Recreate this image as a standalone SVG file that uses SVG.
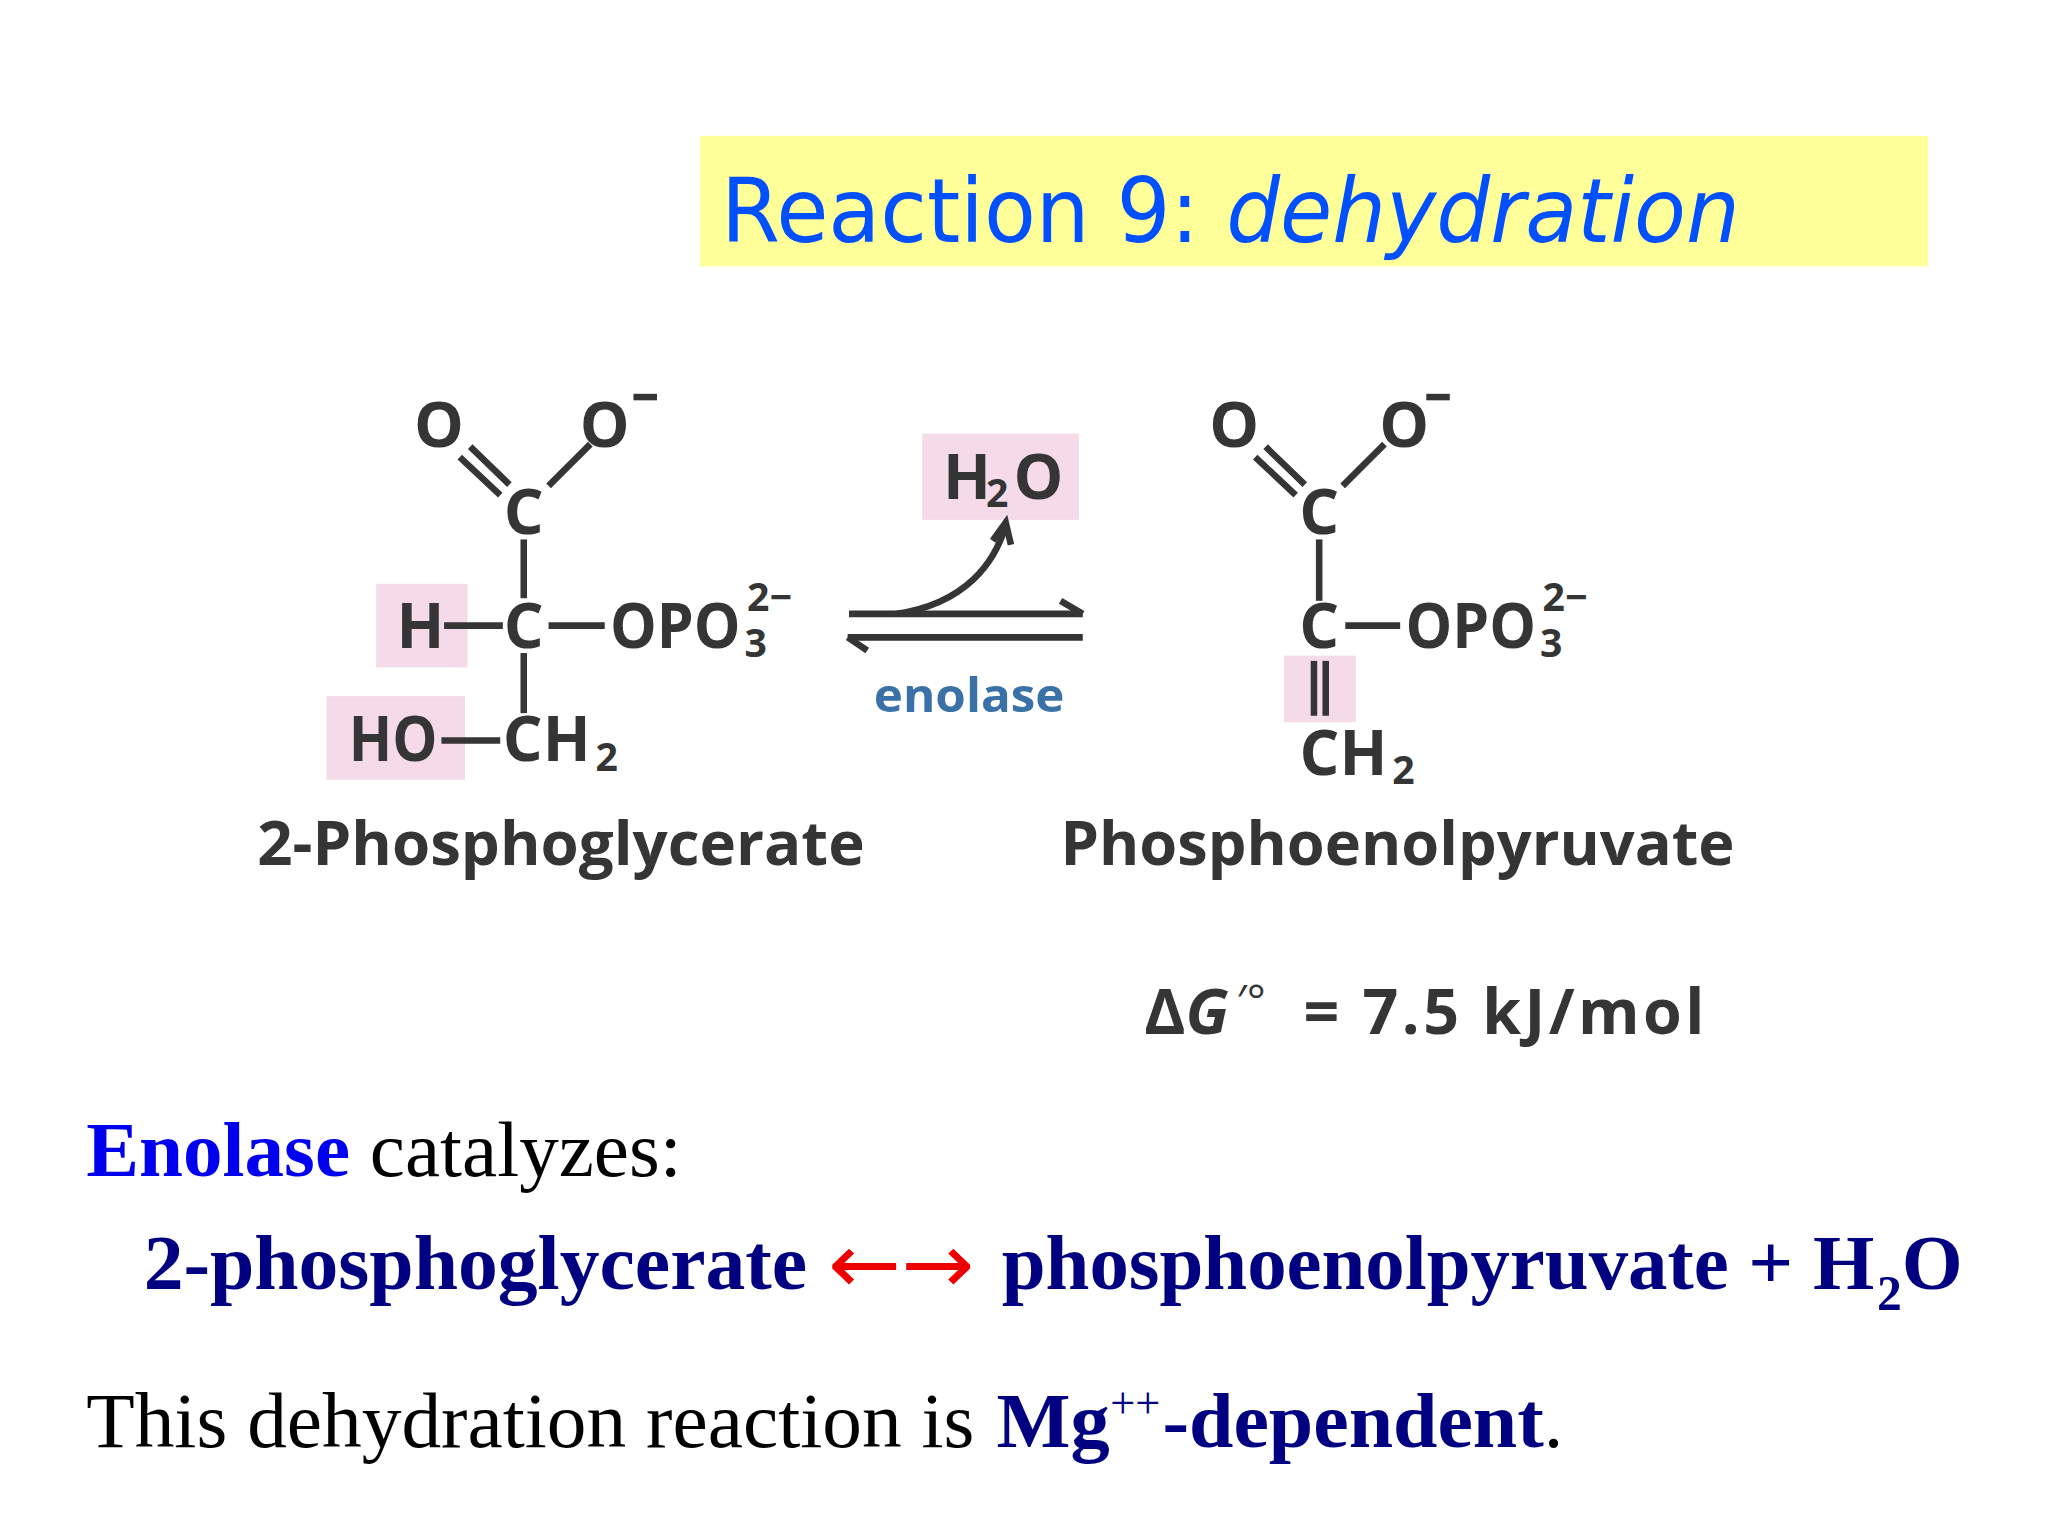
<svg xmlns="http://www.w3.org/2000/svg" width="2048" height="1536" viewBox="0 0 2048 1536">
<defs>
<style>
.ch{font-family:"Open Sans","DejaVu Sans",sans-serif;font-weight:bold;fill:#353535;font-size:48px}
.sm{font-size:30px}
.bd{stroke:#353535;stroke-width:5;fill:none}
.lab{font-family:"Open Sans","DejaVu Sans",sans-serif;font-weight:bold;fill:#353535;font-size:46px}
.tm{font-family:"Liberation Serif","Times New Roman",serif;font-size:60px}
.nv{fill:#000080;font-weight:bold}
</style>
</defs>
<rect width="2048" height="1536" fill="#ffffff"/>
<g transform="scale(1.30612)">
<g id="title">
<rect x="536" y="104" width="940" height="100" fill="#ffff99"/>
<text x="552" y="185" font-family="'Comic Sans MS','DejaVu Sans',sans-serif" font-size="68" fill="#0050ff" textLength="780" lengthAdjust="spacingAndGlyphs">Reaction 9: <tspan font-style="italic">dehydration</tspan></text>
</g>
<g id="pga">
<rect x="288" y="447" width="70" height="64" fill="#f5dbe8"/>
<rect x="250" y="533" width="106" height="64" fill="#f5dbe8"/>
<text class="ch" x="336" y="342" text-anchor="middle">O</text>
<text class="ch" x="463" y="342" text-anchor="middle">O</text>
<line class="bd" x1="485" y1="304" x2="503" y2="304"/>
<line class="bd" x1="352" y1="350" x2="383" y2="379"/>
<line class="bd" x1="360" y1="342" x2="390" y2="371"/>
<line class="bd" x1="420" y1="372" x2="452" y2="340"/>
<text class="ch" x="401" y="409" text-anchor="middle">C</text>
<line class="bd" x1="401" y1="413" x2="401" y2="458"/>
<text class="ch" x="322" y="496" text-anchor="middle">H</text>
<line class="bd" x1="340" y1="479" x2="385" y2="479"/>
<text class="ch" x="401" y="496" text-anchor="middle">C</text>
<line class="bd" x1="420" y1="479" x2="463" y2="479"/>
<text class="ch" x="467" y="496" textLength="100" lengthAdjust="spacingAndGlyphs">OPO</text>
<text class="ch sm" x="572" y="468">2−</text>
<text class="ch sm" x="570" y="503">3</text>
<line class="bd" x1="401" y1="500" x2="401" y2="546"/>
<text class="ch" x="267" y="583" textLength="68" lengthAdjust="spacingAndGlyphs">HO</text>
<line class="bd" x1="338" y1="567" x2="383" y2="567"/>
<text class="ch" x="385" y="583">CH</text>
<text class="ch sm" x="456" y="590">2</text>
<text class="lab" x="197" y="662" textLength="465" lengthAdjust="spacingAndGlyphs">2-Phosphoglycerate</text>
</g>
<g id="water">
<rect x="706" y="332" width="120" height="66" fill="#f5dbe8"/>
<text class="ch" x="722" y="382">H</text>
<text class="ch sm" x="755" y="388">2</text>
<text class="ch" x="776" y="382">O</text>
</g>
<g id="enolase">
<text x="742" y="545" text-anchor="middle" font-family="'Open Sans','DejaVu Sans',sans-serif" font-weight="bold" font-size="36" fill="#3a72a8" textLength="146" lengthAdjust="spacingAndGlyphs">enolase</text>
</g>
<g id="pep">
<rect x="983" y="502" width="55" height="51" fill="#f5dbe8"/>
<text class="ch" x="945" y="342" text-anchor="middle">O</text>
<text class="ch" x="1075" y="342" text-anchor="middle">O</text>
<line class="bd" x1="1092" y1="304" x2="1110" y2="304"/>
<line class="bd" x1="961" y1="350" x2="992" y2="379"/>
<line class="bd" x1="969" y1="342" x2="999" y2="371"/>
<line class="bd" x1="1028" y1="372" x2="1060" y2="340"/>
<text class="ch" x="1010" y="409" text-anchor="middle">C</text>
<line class="bd" x1="1010" y1="413" x2="1010" y2="460"/>
<text class="ch" x="1010" y="496" text-anchor="middle">C</text>
<line class="bd" x1="1030" y1="479" x2="1072" y2="479"/>
<text class="ch" x="1076" y="496" textLength="100" lengthAdjust="spacingAndGlyphs">OPO</text>
<text class="ch sm" x="1181" y="468">2−</text>
<text class="ch sm" x="1179" y="503">3</text>
<line class="bd" x1="1006" y1="506" x2="1006" y2="548"/>
<line class="bd" x1="1015" y1="506" x2="1015" y2="548"/>
<text class="ch" x="995" y="593">CH</text>
<text class="ch sm" x="1066" y="600">2</text>
<text class="lab" x="812" y="662" textLength="516" lengthAdjust="spacingAndGlyphs">Phosphoenolpyruvate</text>
</g>
<g id="connectors">
<line class="bd" x1="650" y1="470" x2="829" y2="470"/>
<polyline class="bd" points="812,460 829,470"/>
<line class="bd" x1="649" y1="488" x2="829" y2="488"/>
<polyline class="bd" points="649,488 664,498"/>
<path class="bd" stroke-width="4" d="M686,470 C740,462 762,430 770,402"/>
<polyline class="bd" stroke-width="4" points="760,414 770,400 774,417"/>
</g>
<g id="dg">
<text x="876" y="792" font-family="'Open Sans','DejaVu Sans',sans-serif" font-weight="bold" font-size="48" fill="#353535">Δ<tspan font-style="italic">G</tspan><tspan font-weight="normal" font-size="34" dy="-14" dx="6">′°</tspan></text>
<text x="998" y="792" font-family="'Open Sans','DejaVu Sans',sans-serif" font-weight="bold" font-size="48" fill="#353535" textLength="307" lengthAdjust="spacing">= 7.5  kJ/mol</text>
</g>
<g id="notes">
<text class="tm" x="66" y="900" textLength="456" lengthAdjust="spacingAndGlyphs"><tspan fill="#0000ee" font-weight="bold">Enolase</tspan> catalyzes:</text>
<text class="tm nv" x="110" y="987" textLength="508" lengthAdjust="spacingAndGlyphs">2-phosphoglycerate</text>
<text x="634" y="990" font-family="'DejaVu Sans',sans-serif" style="font-size:64px" fill="#ee0000" textLength="112" lengthAdjust="spacingAndGlyphs">←→</text>
<text class="tm nv" x="767" y="987" textLength="668" lengthAdjust="spacingAndGlyphs">phosphoenolpyruvate + H</text>
<text class="tm nv" x="1437" y="1003" style="font-size:38px">2</text>
<text class="tm nv" x="1456" y="987">O</text>
<text class="tm" x="66" y="1108" textLength="680" lengthAdjust="spacingAndGlyphs">This dehydration reaction is</text>
<text class="tm nv" x="763" y="1108">Mg</text>
<text x="850" y="1086" font-family="'Liberation Serif',serif" style="font-size:34px" fill="#000080">++</text>
<text class="tm nv" x="890" y="1108" textLength="292" lengthAdjust="spacingAndGlyphs">-dependent</text>
<text class="tm" x="1182" y="1108">.</text>
</g>
</g>
</svg>
